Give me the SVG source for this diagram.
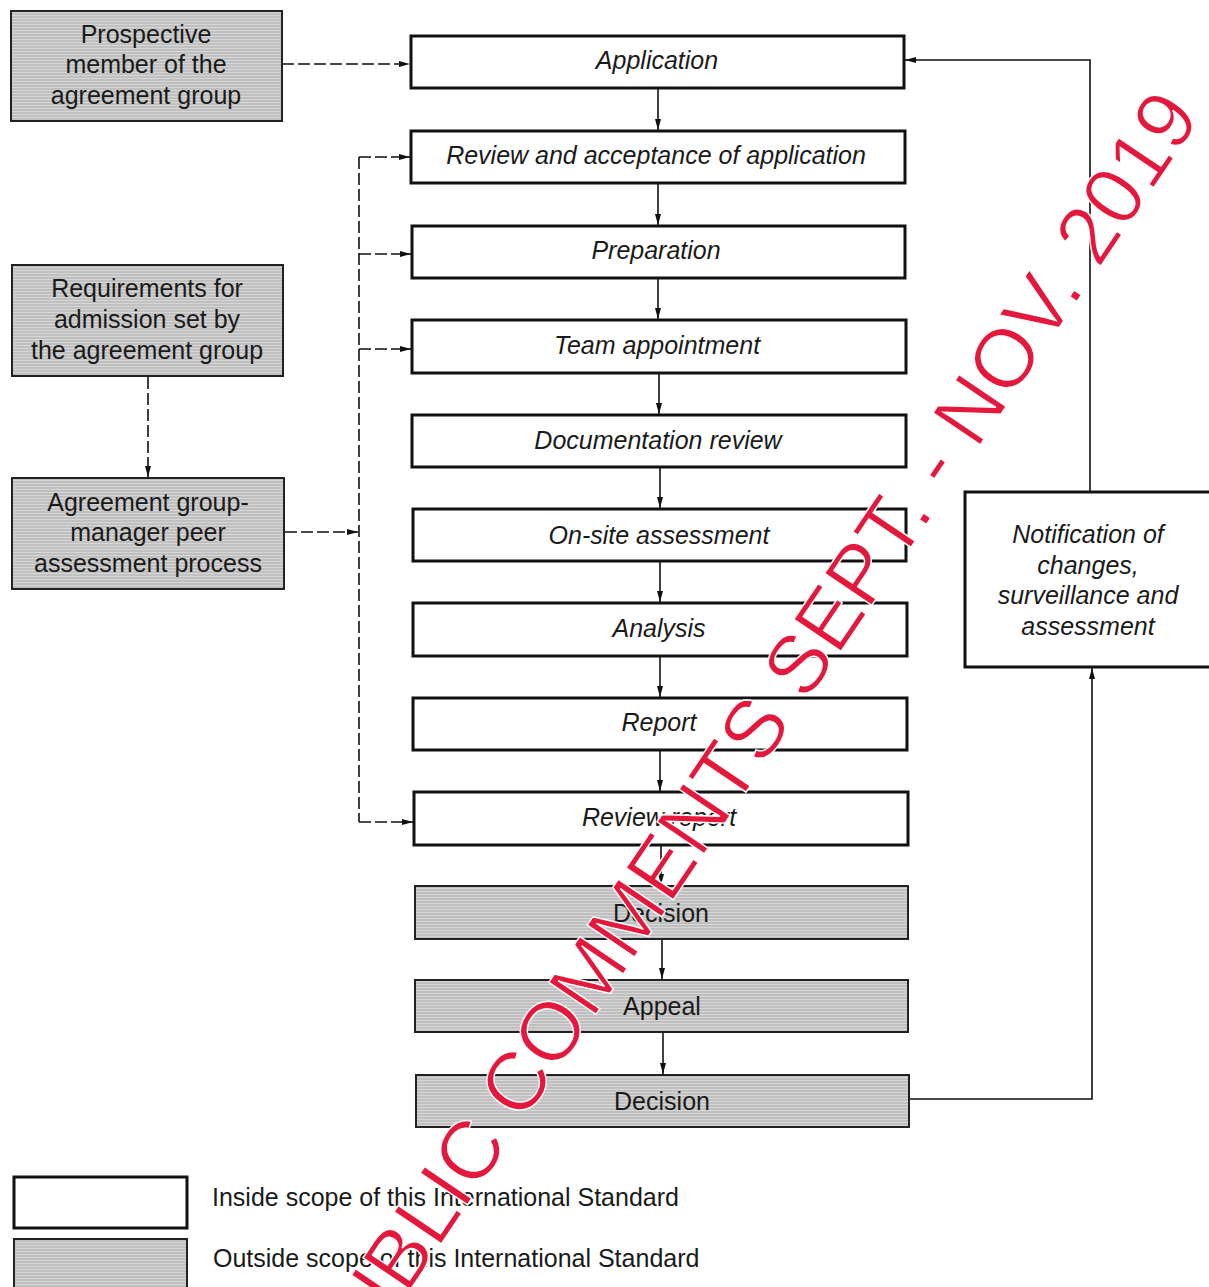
<svg xmlns="http://www.w3.org/2000/svg" width="1209" height="1287" viewBox="0 0 1209 1287">
<style>
.t{font-family:"Liberation Sans",Arial,sans-serif;font-size:25px;fill:#1a1a1a;text-anchor:middle}
.i{font-style:italic}
.lg{font-family:"Liberation Sans",Arial,sans-serif;font-size:25px;fill:#1a1a1a}
.pb{fill:#fff;stroke:#111;stroke-width:3}
.gb{fill:url(#dots);stroke:#222;stroke-width:2}
.c{fill:none;stroke:#111;stroke-width:1.6}
.d{fill:none;stroke:#111;stroke-width:1.6;stroke-dasharray:12,4}
.wm{font-family:"Liberation Sans",Arial,sans-serif;font-size:83px;fill:#e3183c;stroke:#fff;stroke-width:1.4}
</style>
<defs>
<pattern id="dots" width="3" height="3" patternUnits="userSpaceOnUse">
<rect width="3" height="3" fill="#c0c0c0"/>
<rect x="0" y="0" width="3" height="1" fill="#d6d6d6"/>
</pattern>
<marker id="ah" markerWidth="12" markerHeight="8" refX="11" refY="4" orient="auto" markerUnits="userSpaceOnUse">
<path d="M0,1 L11,4 L0,7 Z" fill="#111"/>
</marker>
</defs>
<rect width="1209" height="1287" fill="#fff"/>

<g id="connectors">
<path class="d" d="M282,64 H410" marker-end="url(#ah)"/>
<path class="d" d="M148,377 V477" marker-end="url(#ah)"/>
<path class="d" d="M285,532 H358" marker-end="url(#ah)"/>
<path class="d" d="M359,157 V822"/>
<path class="d" d="M359,157 H410" marker-end="url(#ah)"/>
<path class="d" d="M359,254 H411" marker-end="url(#ah)"/>
<path class="d" d="M359,349 H411" marker-end="url(#ah)"/>
<path class="d" d="M359,822 H413" marker-end="url(#ah)"/>
<path class="c" d="M658,89 V130" marker-end="url(#ah)"/>
<path class="c" d="M658,184 V225" marker-end="url(#ah)"/>
<path class="c" d="M658,279 V319" marker-end="url(#ah)"/>
<path class="c" d="M659,374 V414" marker-end="url(#ah)"/>
<path class="c" d="M660,468 V508" marker-end="url(#ah)"/>
<path class="c" d="M660,562 V602" marker-end="url(#ah)"/>
<path class="c" d="M660,657 V697" marker-end="url(#ah)"/>
<path class="c" d="M660,751 V791" marker-end="url(#ah)"/>
<path class="c" d="M661,846 V885" marker-end="url(#ah)"/>
<path class="c" d="M662,940 V979" marker-end="url(#ah)"/>
<path class="c" d="M663,1033 V1074" marker-end="url(#ah)"/>
<path class="c" d="M909,1099 H1092 V668" marker-end="url(#ah)"/>
<path class="c" d="M1090,492 V60 H905" marker-end="url(#ah)"/>
</g>

<g id="n-prospective">
<rect class="gb" x="11" y="11" width="271" height="110"/>
<text class="t" x="146" y="43">Prospective</text>
<text class="t" x="146" y="73">member of the</text>
<text class="t" x="146" y="104">agreement group</text>
</g>
<g id="n-requirements">
<rect class="gb" x="12" y="265" width="271" height="111"/>
<text class="t" x="147" y="297">Requirements for</text>
<text class="t" x="147" y="328">admission set by</text>
<text class="t" x="147" y="359">the agreement group</text>
</g>
<g id="n-agreement">
<rect class="gb" x="12" y="478" width="272" height="111"/>
<text class="t" x="148" y="511">Agreement group-</text>
<text class="t" x="148" y="541">manager peer</text>
<text class="t" x="148" y="572">assessment process</text>
</g>

<g id="n-application"><rect class="pb" x="411" y="36" width="493" height="52"/><text class="t i" x="657" y="69">Application</text></g>
<g id="n-review-acceptance"><rect class="pb" x="411" y="131" width="494" height="52"/><text class="t i" x="656" y="164">Review and acceptance of application</text></g>
<g id="n-preparation"><rect class="pb" x="412" y="226" width="493" height="52"/><text class="t i" x="656" y="259">Preparation</text></g>
<g id="n-team"><rect class="pb" x="412" y="320" width="494" height="53"/><text class="t i" x="657" y="354">Team appointment</text></g>
<g id="n-documentation"><rect class="pb" x="412" y="415" width="494" height="52"/><text class="t i" x="658" y="449">Documentation review</text></g>
<g id="n-onsite"><rect class="pb" x="413" y="509" width="493" height="52"/><text class="t i" x="659" y="544">On-site assessment</text></g>
<g id="n-analysis"><rect class="pb" x="413" y="603" width="494" height="53"/><text class="t i" x="659" y="637">Analysis</text></g>
<g id="n-report"><rect class="pb" x="413" y="698" width="494" height="52"/><text class="t i" x="659" y="731">Report</text></g>
<g id="n-review-report"><rect class="pb" x="414" y="792" width="494" height="53"/><text class="t i" x="659" y="826">Review report</text></g>
<g id="n-decision1"><rect class="gb" x="415" y="886" width="493" height="53"/><text class="t" x="661" y="922">Decision</text></g>
<g id="n-appeal"><rect class="gb" x="415" y="980" width="493" height="52"/><text class="t" x="662" y="1015">Appeal</text></g>
<g id="n-decision2"><rect class="gb" x="416" y="1075" width="493" height="52"/><text class="t" x="662" y="1110">Decision</text></g>

<g id="n-notification">
<rect class="pb" x="965" y="492" width="246" height="175"/>
<text class="t i" x="1088" y="543">Notification of</text>
<text class="t i" x="1088" y="574">changes,</text>
<text class="t i" x="1088" y="604">surveillance and</text>
<text class="t i" x="1088" y="635">assessment</text>
</g>

<g id="legend">
<rect class="pb" x="14" y="1177" width="173" height="51" stroke-width="2.5"/>
<text class="lg" x="212" y="1206">Inside scope of this International Standard</text>
<rect class="gb" x="14" y="1239" width="173" height="52"/>
<text class="lg" x="213" y="1267">Outside scope of this International Standard</text>
</g>

<g id="watermark">
<text class="wm" transform="translate(342,1391) rotate(-56)">PUBLIC COMMENTS SEPT. - NOV. 2019</text>
</g>
</svg>
